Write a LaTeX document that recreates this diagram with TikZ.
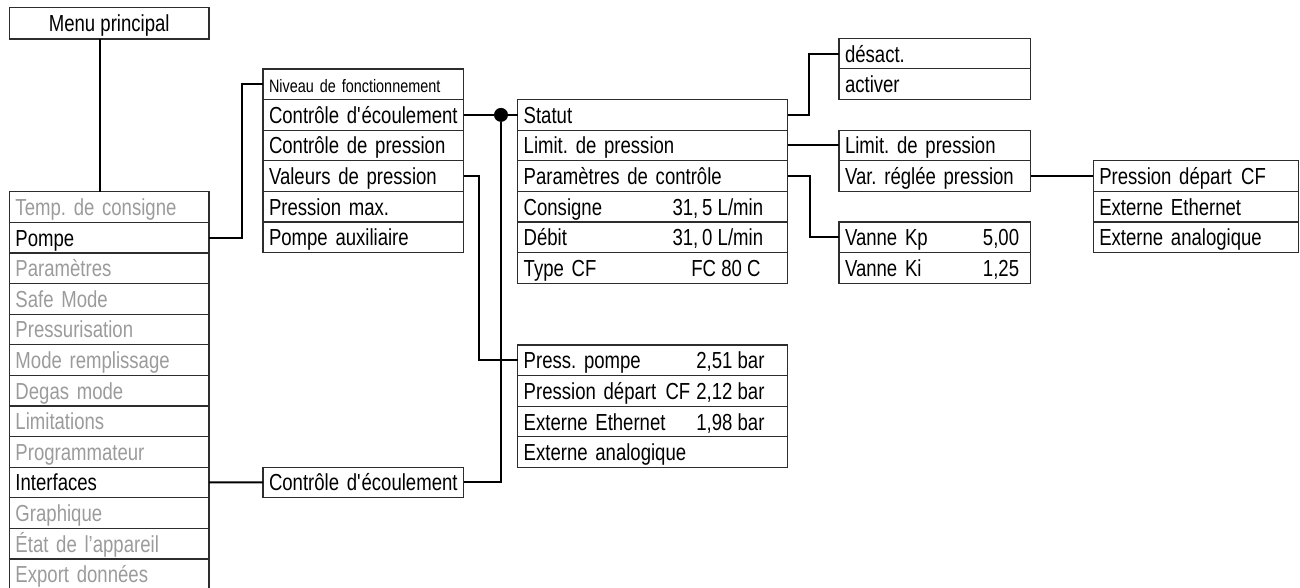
\documentclass[tikz,border=0pt]{standalone}
\usepackage{fontspec}
\setmainfont{Liberation Sans}[FakeStretch=0.8]
\usetikzlibrary{positioning,calc}
\definecolor{ink}{RGB}{45,45,45}
\definecolor{dim}{RGB}{155,155,155}
\frenchspacing

\begin{document}
\begin{tikzpicture}[x=1pt,y=-1pt,font=\fontsize{23.2}{27}\selectfont,
  cell/.style={draw=ink,line width=1.2pt,anchor=north west,inner xsep=6pt,inner ysep=0pt,outer sep=0pt,
    minimum height=30.6pt,text height=17pt,text depth=0pt,align=left},
  val/.style={anchor=east,inner sep=0pt,text height=17pt,text depth=0pt},
  link/.style={line width=2pt,black}]
\useasboundingbox (0,0) rectangle (1300,588);

% main menu
\node[cell,minimum width=199.5pt,minimum height=31.5pt,align=center] (menu) at (9.5,7.5) {Menu principal};
\foreach \txt/\col [count=\i] in {Temp. de consigne/dim, Pompe/black, Paramètres/dim, Safe Mode/dim,
    Pressurisation/dim, Mode remplissage/dim, Degas mode/dim, Limitations/dim, Programmateur/dim,
    Interfaces/black, Graphique/dim, État de l’appareil/dim, Export données/dim}
  \node[cell,text width=187.5pt,text=\col] (m\i) at (9.5,{191.7+(\i-1)*30.6}) {\txt};

% pompe
\node[cell,text width=188.7pt,font=\fontsize{18}{21}\selectfont] (p1) at (263,69) {Niveau de fonctionnement};
\node[cell,text width=188.7pt] (p2) at (p1.south west) {Contrôle d\textquotesingle écoulement};
\node[cell,text width=188.7pt] (p3) at (p2.south west) {Contrôle de pression};
\node[cell,text width=188.7pt] (p4) at (p3.south west) {Valeurs de pression};
\node[cell,text width=188.7pt] (p5) at (p4.south west) {Pression max.};
\node[cell,text width=188.7pt] (p6) at (p5.south west) {Pompe auxiliaire};

% interfaces
\node[cell,text width=188.7pt] (iflow) at (263,467.1) {Contrôle d\textquotesingle écoulement};

% flow control
\node[cell,text width=258pt] (s1) at (517.7,99.6) {Statut};
\node[cell,text width=258pt] (s2) at (s1.south west) {Limit. de pression};
\node[cell,text width=258pt] (s3) at (s2.south west) {Paramètres de contrôle};
\node[cell,text width=258pt] (s4) at (s3.south west) {Consigne};
\node[cell,text width=258pt] (s5) at (s4.south west) {Débit};
\node[cell,text width=258pt] (s6) at (s5.south west) {Type CF};
\node[val] (s4v) at ([xshift=-24.4pt]s4.east) {31,\,5 L/min};
\node[val] (s5v) at ([xshift=-24.4pt]s5.east) {31,\,0 L/min};
\node[val] (s6v) at ([xshift=-27pt]s6.east) {FC 80 C};

% pressure values
\node[cell,text width=258pt] (v1) at (517.7,345) {Press. pompe};
\node[cell,text width=258pt] (v2) at (v1.south west) {Pression départ\hspace{0.4em}CF};
\node[cell,text width=258pt] (v3) at (v2.south west) {Externe Ethernet};
\node[cell,text width=258pt] (v4) at (v3.south west) {Externe analogique};
\node[val] (v1v) at ([xshift=-23pt]v1.east) {2,51 bar};
\node[val] (v2v) at ([xshift=-23pt]v2.east) {2,12 bar};
\node[val] (v3v) at ([xshift=-23pt]v3.east) {1,98 bar};

% status
\node[cell,text width=179.7pt] (a1) at (839,38.3) {désact.};
\node[cell,text width=179.7pt] (a2) at (a1.south west) {activer};

% pressure limit
\node[cell,text width=179.7pt] (l1) at (839,130.2) {Limit. de pression};
\node[cell,text width=179.7pt] (l2) at (l1.south west) {Var. réglée pression};

% control parameters
\node[cell,text width=179.7pt] (k1) at (839,222) {Vanne Kp};
\node[cell,text width=179.7pt] (k2) at (k1.south west) {Vanne Ki};
\node[val] (k1v) at ([xshift=-11.4pt]k1.east) {5,00};
\node[val] (k2v) at ([xshift=-11.4pt]k2.east) {1,25};

% pressure variable
\node[cell,text width=193pt] (e1) at (1093.3,160.8) {Pression départ\hspace{0.4em}CF};
\node[cell,text width=193pt] (e2) at (e1.south west) {Externe Ethernet};
\node[cell,text width=193pt] (e3) at (e2.south west) {Externe analogique};

% connectors
\node[circle,fill=black,inner sep=0pt,minimum size=14pt] (jn) at ([xshift=37.3pt]p2.east) {};
\draw[link] ([xshift=-9.25pt]menu.south) -- ([xshift=-9.25pt]menu.south |- m1.north);
\draw[link] (m2.east) -- ++(32.7,0) |- (p1.west);
\draw[link] (m10.east) -- (iflow.west);
\draw[link] (p2.east) -- (s1.west);
\draw[link] (iflow.east) -| (jn);
\draw[link] (p4.east) -- ++(15.6,0) |- (v1.west);
\draw[link] (s1.east) -- ++(21.6,0) |- (a1.west);
\draw[link] (s2.east) -- (l1.west);
\draw[link] (s3.east) -- ++(22.3,0) |- (k1.west);
\draw[link] (l2.east) -- (e1.west);
\end{tikzpicture}
\end{document}
